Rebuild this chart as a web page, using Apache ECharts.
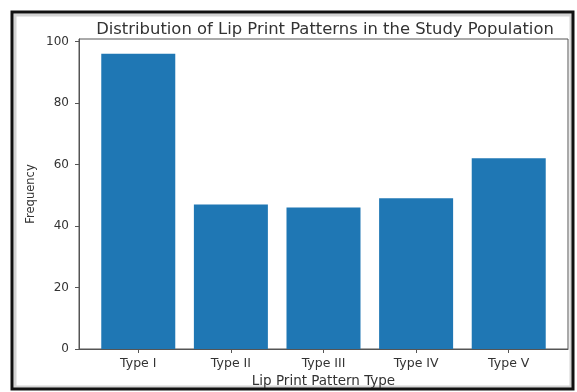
<!DOCTYPE html>
<html>
<head>
<meta charset="utf-8">
<script src="https://cdn.jsdelivr.net/npm/echarts@6/dist/echarts.min.js"></script>
<style>
    html, body { margin: 0; padding: 0; background: #fff; }
    #main { width: 577px; height: 392px; }
</style>
</head>
<body>
<div id="main"></div>
<script>
var categories = ['Type I', 'Type II', 'Type III', 'Type IV', 'Type V'];
var frequency = [96, 47, 46, 49, 62];
var yTicks = [0, 20, 40, 60, 80, 100];

var chart = echarts.init(document.getElementById('main'));

var barData = [];
for (var i = 0; i < frequency.length; i++) {
    barData.push([i, frequency[i]]);
}
var catPos = categories.map(function (c, i) { return i; });

var option = {
    backgroundColor: '#fff',
    animation: false,
    textStyle: { fontFamily: 'DejaVu Sans' },
    title: {
        text: 'Distribution of Lip Print Patterns in the Study Population',
        left: 320,
        textAlign: 'center',
        top: 17,
        textStyle: { color: '#333', fontSize: 16.4, fontWeight: 'normal', fontFamily: 'DejaVu Sans' }
    },
    graphic: [
        // photo frame around the figure
        { type: 'rect', shape: { x: 15, y: 15, width: 556, height: 372 },
          style: { fill: 'none', stroke: '#d4d4d4', lineWidth: 3 }, silent: true },
        { type: 'rect', shape: { x: 12, y: 12, width: 561, height: 377 },
          style: { fill: 'none', stroke: '#111', lineWidth: 3 }, silent: true }
    ],
    grid: {
        left: 79,
        top: 39,
        right: 9,
        bottom: 43,
        containLabel: false,
        outerBoundsMode: 'none',
        show: true,
        borderColor: '#555',
        borderWidth: 1,
        backgroundColor: 'transparent'
    },
    xAxis: {
        type: 'value',
        min: -0.64,
        max: 4.64,
        name: 'Lip Print Pattern Type',
        nameLocation: 'middle',
        nameGap: 24,
        nameTextStyle: { color: '#333', fontSize: 13.5 },
        axisLine: { show: true, onZero: false, lineStyle: { color: '#555' } },
        axisTick: { show: true, length: 4, lineStyle: { color: '#555' }, customValues: catPos },
        axisLabel: {
            color: '#333',
            fontSize: 12.5,
            margin: 8,
            customValues: catPos,
            formatter: function (v) { return categories[Math.round(v)]; }
        },
        splitLine: { show: false }
    },
    yAxis: {
        type: 'value',
        min: 0,
        max: 100.8,
        name: 'Frequency',
        nameLocation: 'middle',
        nameGap: 42,
        nameMoveOverlap: false,
        nameTextStyle: { color: '#333', fontSize: 11.5 },
        axisLine: { show: true, onZero: false, lineStyle: { color: '#555' } },
        axisTick: { show: true, length: 4, lineStyle: { color: '#555' }, customValues: yTicks },
        axisLabel: { color: '#333', fontSize: 12, margin: 10, customValues: yTicks },
        splitLine: { show: false }
    },
    series: [{
        type: 'bar',
        data: barData,
        barWidth: 74,
        itemStyle: { color: '#1f77b4' }
    }]
};

chart.setOption(option);
</script>
</body>
</html>
